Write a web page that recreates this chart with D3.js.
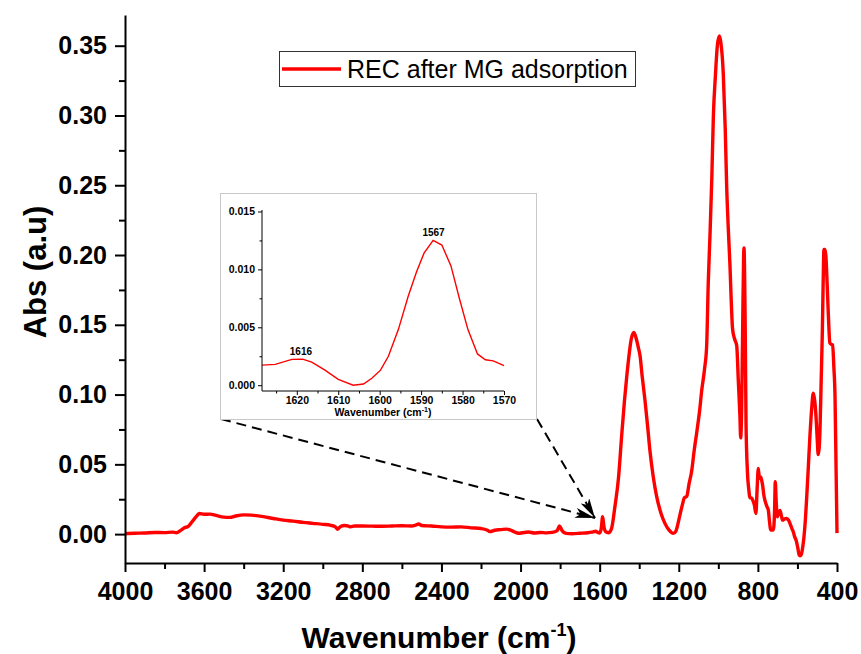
<!DOCTYPE html>
<html>
<head>
<meta charset="utf-8">
<script src="https://cdn.jsdelivr.net/npm/d3@7"></script>
<style>
  html, body { margin: 0; padding: 0; background: #fff; }
  svg { display: block; font-family: "Liberation Sans", Arial, sans-serif; }
</style>
</head>
<body>
<svg id="chart" width="861" height="654"></svg>
<script>
// FTIR spectrum: wavenumber (cm-1) and absorbance
const wavenumber = [
  4000, 3950, 3900, 3850, 3800, 3760, 3740, 3720, 3700, 3680, 3660, 3640, 3625, 3600, 3570, 3540,
  3500, 3470, 3440, 3400, 3360, 3300, 3250, 3200, 3150, 3100, 3050, 3000, 2960, 2935, 2925, 2910,
  2890, 2870, 2860, 2840, 2800, 2750, 2700, 2650, 2600, 2550, 2530, 2515, 2500, 2450, 2400, 2350,
  2300, 2250, 2200, 2170, 2155, 2130, 2100, 2070, 2050, 2030, 2010, 1990, 1960, 1930, 1900, 1870,
  1840, 1815, 1803, 1790, 1770, 1740, 1700, 1660, 1640, 1620, 1610, 1600, 1592, 1585, 1578, 1570,
  1556, 1540, 1523, 1505, 1489, 1475, 1463, 1450, 1440, 1427, 1415, 1405, 1396, 1385, 1371, 1358,
  1346, 1330, 1312, 1290, 1270, 1250, 1228, 1215, 1200, 1194, 1180, 1172, 1160, 1148, 1135, 1122,
  1109, 1095, 1084, 1070, 1059, 1051, 1042, 1033, 1025, 1015, 1005, 995, 987, 975, 965, 958,
  950, 941, 935, 928, 918, 907, 899, 891, 887, 882, 877, 872, 870, 867, 864, 860,
  853, 846, 840, 832, 825, 818, 810, 804, 798, 792, 786, 780, 776, 770, 764, 755,
  747, 742, 735, 722, 716, 712, 708, 702, 695, 688, 681, 675, 665, 655, 645, 638,
  628, 621, 614, 607, 598, 591, 585, 579, 572, 567, 560, 553, 545, 537, 528, 520,
  513, 506, 500, 495, 490, 486, 480, 474, 470, 466, 461, 456, 450, 444, 436, 429,
  422, 416, 410, 405, 400
];
const absorbance = [
  0.0003, 0.0006, 0.0008, 0.0012, 0.0011, 0.0014, 0.0010, 0.0025, 0.0045, 0.0055, 0.0090, 0.0125, 0.0148, 0.0142, 0.0143, 0.0134,
  0.0122, 0.0120, 0.0130, 0.0138, 0.0136, 0.0125, 0.0112, 0.0100, 0.0093, 0.0084, 0.0077, 0.0070, 0.0063, 0.0050, 0.0035, 0.0055,
  0.0062, 0.0058, 0.0052, 0.0058, 0.0058, 0.0057, 0.0056, 0.0058, 0.0060, 0.0058, 0.0065, 0.0072, 0.0062, 0.0058, 0.0052, 0.0050,
  0.0052, 0.0045, 0.0040, 0.0030, 0.0018, 0.0028, 0.0032, 0.0036, 0.0028, 0.0015, 0.0006, 0.0010, 0.0015, 0.0008, 0.0012, 0.0009,
  0.0012, 0.0025, 0.0058, 0.0025, 0.0005, 0.0003, 0.0006, 0.0010, 0.0014, 0.0020, 0.0012, 0.0008, 0.0040, 0.0124, 0.0050, 0.0018,
  0.0010, 0.0040, 0.0196, 0.040, 0.070, 0.095, 0.113, 0.130, 0.140, 0.1445, 0.140, 0.134, 0.128, 0.113, 0.096, 0.078,
  0.060, 0.042, 0.027, 0.015, 0.0077, 0.003, 0.0005, 0.002, 0.010, 0.0138, 0.022, 0.026, 0.027, 0.036, 0.045, 0.060,
  0.073, 0.088, 0.103, 0.118, 0.135, 0.180, 0.215, 0.255, 0.300, 0.328, 0.350, 0.357, 0.352, 0.330, 0.290, 0.250,
  0.220, 0.192, 0.168, 0.147, 0.140, 0.135, 0.110, 0.085, 0.069, 0.090, 0.147, 0.200, 0.205, 0.185, 0.147, 0.080,
  0.045, 0.032, 0.026, 0.026, 0.024, 0.021, 0.0148, 0.032, 0.047, 0.040, 0.041, 0.038, 0.035, 0.028, 0.024, 0.020,
  0.017, 0.010, 0.003, 0.003, 0.015, 0.0375, 0.025, 0.0124, 0.015, 0.017, 0.013, 0.010, 0.011, 0.0112, 0.010, 0.0077,
  0.004, 0.0017, -0.002, -0.0043, -0.010, -0.015, -0.0155, -0.014, -0.008, -0.002, 0.010, 0.0268, 0.048, 0.070, 0.090, 0.101,
  0.096, 0.084, 0.068, 0.057, 0.062, 0.0746, 0.110, 0.146, 0.180, 0.204, 0.204, 0.199, 0.180, 0.158, 0.137, 0.136,
  0.1356, 0.120, 0.0985, 0.050, 0.0007
];

// Zoomed region around 1600 cm-1 (inset)
const insetWavenumber = [
  1628.4, 1625.2, 1621.2, 1618.6, 1616.4, 1613.2, 1610, 1606.4, 1603.9, 1601.9, 1599.8, 1597.9,
  1595.5, 1593.1, 1591.1, 1589.3, 1587.1, 1585, 1582.8, 1580.7, 1578.7, 1576.4, 1574.5, 1572.6, 1570
];
const insetAbsorbance = [
  0.00173, 0.0018, 0.00223, 0.00225, 0.0020, 0.0013, 0.0005, 0.0000, 0.0001, 0.0006, 0.0013, 0.0025,
  0.0048, 0.0077, 0.0098, 0.0114, 0.0125, 0.0121, 0.0103, 0.0074, 0.0048, 0.0027, 0.0022, 0.0021, 0.0017
];
const insetPeakLabels = ["1616", "1567"];
const insetPeakAt = [1619, 1587];
const insetPeakValue = [0.00225, 0.0125];

const xTicks = [4000, 3600, 3200, 2800, 2400, 2000, 1600, 1200, 800, 400];
const yTicks = [0.00, 0.05, 0.10, 0.15, 0.20, 0.25, 0.30, 0.35];
const insetXTicks = [1620, 1610, 1600, 1590, 1580, 1570];
const insetYTicks = [0.000, 0.005, 0.010, 0.015];
const seriesName = "REC after MG adsorption";

const RED = "#ff0000";
const FONT = "'Liberation Sans', Arial, sans-serif";
const svg = d3.select("#chart");

// ---- main plot ----
const x = d3.scaleLinear().domain([4000, 400]).range([125, 837]);
const y = d3.scaleLinear().domain([-0.0207, 0.372]).range([563, 15]);

const data = wavenumber.map((w, i) => ({ w, a: absorbance[i] }));

svg.append("path")
  .datum(data)
  .attr("fill", "none")
  .attr("stroke", RED)
  .attr("stroke-width", 3.4)
  .attr("stroke-linejoin", "round")
  .attr("d", d3.line().x(d => x(d.w)).y(d => y(d.a)).curve(d3.curveMonotoneX));

function styleAxis(g, width) {
  g.select(".domain").attr("stroke", "#000").attr("stroke-width", width);
  g.selectAll(".tick line").attr("stroke", "#000").attr("stroke-width", width);
}

// minor ticks
const xMinor = d3.range(3800, 399, -400);
const yMinor = d3.range(0.025, 0.37, 0.05);
svg.append("g").attr("transform", "translate(0,563)")
  .call(d3.axisBottom(x).tickValues(xMinor).tickSize(6).tickFormat(""))
  .call(g => { styleAxis(g, 2); g.select(".domain").remove(); });
svg.append("g").attr("transform", "translate(125,0)")
  .call(d3.axisLeft(y).tickValues(yMinor).tickSize(6).tickFormat(""))
  .call(g => { styleAxis(g, 2); g.select(".domain").remove(); });

const gx = svg.append("g").attr("transform", "translate(0,563)")
  .call(d3.axisBottom(x).tickValues(xTicks).tickSize(9).tickSizeOuter(0).tickPadding(10).tickFormat(d3.format("d")))
  .call(g => styleAxis(g, 2));
gx.selectAll("text").attr("fill", "#000").attr("font-size", 25).attr("font-weight", "bold")
  .attr("font-family", FONT);

const gy = svg.append("g").attr("transform", "translate(125,0)")
  .call(d3.axisLeft(y).tickValues(yTicks).tickSize(10).tickSizeOuter(0).tickPadding(8).tickFormat(d3.format(".2f")))
  .call(g => styleAxis(g, 2));
gy.selectAll("text").attr("fill", "#000").attr("font-size", 25).attr("font-weight", "bold")
  .attr("font-family", FONT);

// axis titles
const xt = svg.append("text").attr("x", 439).attr("y", 648).attr("text-anchor", "middle")
  .attr("font-size", 30).attr("font-weight", "bold");
xt.append("tspan").text("Wavenumber (cm");
xt.append("tspan").attr("font-size", 18).attr("dy", -12).text("-1");
xt.append("tspan").attr("dy", 12).text(")");

svg.append("text").attr("transform", "translate(46,272) rotate(-90)")
  .attr("text-anchor", "middle").attr("font-size", 31).attr("font-weight", "bold")
  .text("Abs (a.u)");

// legend
const lg = svg.append("g");
lg.append("rect").attr("x", 279.5).attr("y", 51.5).attr("width", 356).attr("height", 35)
  .attr("fill", "#fff").attr("stroke", "#333").attr("stroke-width", 1);
lg.append("line").attr("x1", 282).attr("x2", 341).attr("y1", 69).attr("y2", 69)
  .attr("stroke", RED).attr("stroke-width", 3.4);
lg.append("text").attr("x", 347).attr("y", 78).attr("font-size", 25).attr("fill", "#000").text(seriesName);

// ---- pointer arrows from inset to the region ----
const tip = [595, 518];
const defs = svg.append("defs");
defs.append("marker").attr("id", "head").attr("viewBox", "0 0 20 10")
  .attr("refX", 20).attr("refY", 5).attr("markerWidth", 20).attr("markerHeight", 10)
  .attr("markerUnits", "userSpaceOnUse").attr("orient", "auto")
  .append("path").attr("d", "M0,0 L20,5 L0,10 L5,5 Z").attr("fill", "#000");
[[221, 419], [537, 419]].forEach(p => {
  svg.append("line").attr("x1", p[0]).attr("y1", p[1]).attr("x2", tip[0]).attr("y2", tip[1])
    .attr("stroke", "#000").attr("stroke-width", 2).attr("stroke-dasharray", "10,6")
    .attr("marker-end", "url(#head)");
});

// ---- inset ----
const inset = svg.append("g");
inset.append("rect").attr("x", 220.5).attr("y", 193.5).attr("width", 316).attr("height", 226)
  .attr("fill", "#fff").attr("stroke", "#c8c8c8").attr("stroke-width", 1);

const ix = d3.scaleLinear().domain([1628.4, 1570]).range([262, 504]);
const iy = d3.scaleLinear().domain([-0.0005, 0.0153]).range([391, 208]);

const insetData = insetWavenumber.map((w, i) => ({ w, a: insetAbsorbance[i] }));
inset.append("path").datum(insetData)
  .attr("fill", "none").attr("stroke", RED).attr("stroke-width", 1.4)
  .attr("d", d3.line().x(d => ix(d.w)).y(d => iy(d.a)));

inset.append("g").attr("transform", "translate(0,391)")
  .call(d3.axisBottom(ix).tickValues(d3.range(1625, 1570, -10)).tickSize(2.5).tickFormat(""))
  .call(g => { styleAxis(g, 1); g.select(".domain").remove(); });
inset.append("g").attr("transform", "translate(262,0)")
  .call(d3.axisLeft(iy).tickValues([0.0025, 0.0075, 0.0125]).tickSize(2.5).tickFormat(""))
  .call(g => { styleAxis(g, 1); g.select(".domain").remove(); });

const igx = inset.append("g").attr("transform", "translate(0,391)")
  .call(d3.axisBottom(ix).tickValues(insetXTicks).tickSize(4).tickSizeOuter(0).tickPadding(2).tickFormat(d3.format("d")))
  .call(g => styleAxis(g, 1));
igx.selectAll("text").attr("fill", "#000").attr("font-size", 10.5).attr("font-weight", "bold")
  .attr("font-family", FONT);
igx.select(".domain").attr("d", `M262,0H504`);

const igy = inset.append("g").attr("transform", "translate(262,0)")
  .call(d3.axisLeft(iy).tickValues(insetYTicks).tickSize(4).tickSizeOuter(0).tickPadding(3).tickFormat(d3.format(".3f")))
  .call(g => styleAxis(g, 1));
igy.selectAll("text").attr("fill", "#000").attr("font-size", 10.5).attr("font-weight", "bold")
  .attr("font-family", FONT);
igy.select(".domain").attr("d", `M0,391V210`);

const ixt = inset.append("text").attr("x", 383).attr("y", 416).attr("text-anchor", "middle")
  .attr("font-size", 10.5).attr("font-weight", "bold");
ixt.append("tspan").text("Wavenumber (cm");
ixt.append("tspan").attr("font-size", 7).attr("dy", -4).text("-1");
ixt.append("tspan").attr("dy", 4).text(")");

insetPeakLabels.forEach((t, i) => {
  inset.append("text").attr("x", ix(insetPeakAt[i])).attr("y", iy(insetPeakValue[i]) - 4)
    .attr("text-anchor", "middle").attr("font-size", 10).attr("font-weight", "bold").text(t);
});
</script>
</body>
</html>
